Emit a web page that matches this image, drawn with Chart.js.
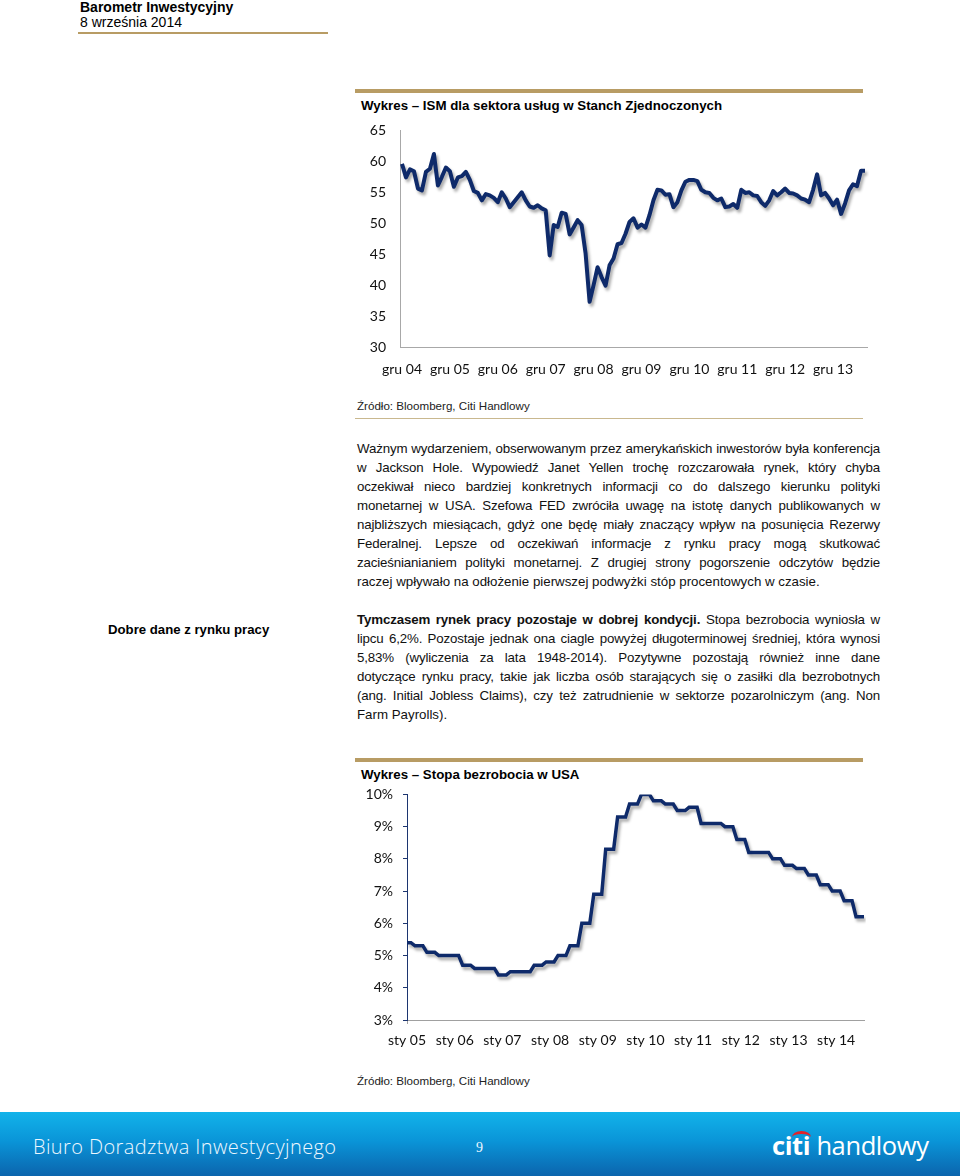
<!DOCTYPE html>
<html lang="pl">
<head>
<meta charset="utf-8">
<script src="https://cdn.jsdelivr.net/npm/chart.js@4.4.1/dist/chart.umd.min.js"></script>
<style>
html,body{margin:0;padding:0;background:#fff;}
body{width:960px;height:1176px;position:relative;overflow:hidden;font-family:"Liberation Sans",Arial,sans-serif;color:#000;}
.abs{position:absolute;}
.hdr1{left:80px;top:-1px;font-size:14px;font-weight:bold;}
.hdr2{left:80px;top:14px;font-size:14px;}
.rule{background:#b89c64;}
.title{left:361px;font-size:13.3px;font-weight:bold;}
.src{left:357px;font-size:11.6px;color:#222;}
.para{left:357px;width:523px;font-size:13.3px;line-height:19px;color:#111;}
.para div{text-align:justify;text-align-last:justify;white-space:nowrap;letter-spacing:-0.15px;}
.para div.last{text-align-last:left;letter-spacing:0;}
.side{left:108px;top:622px;font-size:13.2px;font-weight:bold;}
canvas{position:absolute;}
.footer{left:0;top:1112px;width:960px;height:64px;background:linear-gradient(to bottom,#12b3ea 0%,#0a95d8 45%,#0b64ad 100%);}
.ftxt{left:33px;top:1133px;font-family:"Open Sans",sans-serif;font-size:20px;letter-spacing:0.4px;color:#eef8ff;font-weight:300;}
.fnum{left:476px;top:1140px;font-family:"Liberation Serif",serif;font-size:14px;color:#eef8ff;}
.logo{left:772px;top:1128px;font-family:"Open Sans",sans-serif;font-size:25.5px;color:#fff;letter-spacing:-0.4px;}
.arc{left:792px;top:1131px;width:19px;height:9px;border-top:3px solid #e2232a;border-radius:50% 50% 0 0;}
</style>
</head>
<body>

<div class="abs hdr1">Barometr Inwestycyjny</div>
<div class="abs hdr2">8 września 2014</div>
<div class="abs rule" style="left:78px;top:32px;width:250px;height:2px;"></div>

<div class="abs rule" style="left:355px;top:89px;width:508px;height:4px;"></div>
<div class="abs title" style="top:98px;">Wykres – ISM dla sektora usług w Stanch Zjednoczonych</div>
<canvas id="ismChart" width="520" height="261" style="left:355px;top:116px;"></canvas>
<div class="abs src" style="top:399px;">Źródło: Bloomberg, Citi Handlowy</div>
<div class="abs" style="left:355px;top:418px;width:508px;height:1px;background:#c9b88f;"></div>

<div class="abs para" style="top:439px;">
<div>Ważnym wydarzeniem, obserwowanym przez amerykańskich inwestorów była konferencja</div>
<div>w Jackson Hole. Wypowiedź Janet Yellen trochę rozczarowała rynek, który chyba</div>
<div>oczekiwał nieco bardziej konkretnych informacji co do dalszego kierunku polityki</div>
<div>monetarnej w USA. Szefowa FED zwróciła uwagę na istotę danych publikowanych w</div>
<div>najbliższych miesiącach, gdyż one będę miały znaczący wpływ na posunięcia Rezerwy</div>
<div>Federalnej. Lepsze od oczekiwań informacje z rynku pracy mogą skutkować</div>
<div>zacieśnianianiem polityki monetarnej. Z drugiej strony pogorszenie odczytów będzie</div>
<div class="last">raczej wpływało na odłożenie pierwszej podwyżki stóp procentowych w czasie.</div>
</div>

<div class="abs side">Dobre dane z rynku pracy</div>

<div class="abs para" style="top:610px;">
<div><b>Tymczasem rynek pracy pozostaje w dobrej kondycji.</b> Stopa bezrobocia wyniosła w</div>
<div>lipcu 6,2%. Pozostaje jednak ona ciagle powyżej długoterminowej średniej, która wynosi</div>
<div>5,83% (wyliczenia za lata 1948-2014). Pozytywne pozostają również inne dane</div>
<div>dotyczące rynku pracy, takie jak liczba osób starających się o zasiłki dla bezrobotnych</div>
<div>(ang. Initial Jobless Claims), czy też zatrudnienie w sektorze pozarolniczym (ang. Non</div>
<div class="last">Farm Payrolls).</div>
</div>

<div class="abs rule" style="left:355px;top:758px;width:508px;height:4px;"></div>
<div class="abs title" style="top:767px;">Wykres – Stopa bezrobocia w USA</div>
<canvas id="uChart" width="520" height="279" style="left:355px;top:776px;"></canvas>
<div class="abs src" style="top:1074px;">Źródło: Bloomberg, Citi Handlowy</div>

<div class="abs footer"></div>
<div class="abs ftxt">Biuro Doradztwa Inwestycyjnego</div>
<div class="abs fnum">9</div>
<div class="abs logo"><b>citi</b> handlowy</div>
<div class="abs arc"></div>

<script>
const miesiace = ["sty","lut","mar","kwi","maj","cze","lip","sie","wrz","paź","lis","gru"];

// ISM uslugi, gru 04 - sie 14
const ismValues = [
59.6,57.4,58.7,58.4,55.6,55.3,58.3,58.8,61.2,56.1,57.5,59.0,
58.4,55.9,57.4,57.6,58.3,57.0,55.2,54.9,53.7,54.7,54.5,54.1,
53.4,55.0,54.0,52.6,53.4,54.2,55.0,53.7,52.7,52.5,52.9,52.4,
52.1,44.8,49.7,49.4,51.7,51.5,48.2,49.3,50.5,49.7,45.1,37.3,
40.0,42.9,41.3,39.9,43.2,44.3,46.6,46.8,48.3,50.2,50.8,49.3,
49.8,49.3,51.3,53.7,55.4,55.3,54.6,54.7,52.6,53.4,55.3,56.7,
57.0,57.0,56.8,55.4,55.0,54.9,54.1,53.7,54.0,52.6,52.7,53.1,
52.5,55.4,54.9,55.0,54.5,54.4,53.4,52.8,53.7,55.2,54.5,55.0,
55.6,54.9,54.8,54.5,54.0,53.8,53.4,55.4,57.9,54.5,54.9,54.0,
52.9,53.8,51.5,53.2,55.3,56.3,56.0,58.5,58.5
];
const ismStart = {year: 2004, month: 11};
const ismTicks = [30,35,40,45,50,55,60,65];

// stopa bezrobocia USA (%), sty 05 - sie 14
const bezrobocie = [
5.4,5.4,5.3,5.3,5.3,5.1,5.1,5.1,5.0,5.0,5.0,5.0,
5.0,5.0,4.7,4.7,4.7,4.6,4.6,4.6,4.6,4.6,4.6,4.4,
4.4,4.4,4.5,4.5,4.5,4.5,4.5,4.5,4.7,4.7,4.7,4.8,
4.8,4.8,5.0,5.0,5.0,5.3,5.3,5.3,6.0,6.0,6.0,6.9,
6.9,6.9,8.3,8.3,8.3,9.3,9.3,9.3,9.7,9.7,9.7,10.0,
10.0,10.0,9.8,9.8,9.8,9.7,9.7,9.7,9.5,9.5,9.5,9.6,
9.6,9.6,9.1,9.1,9.1,9.1,9.1,9.1,9.0,9.0,9.0,8.6,
8.6,8.6,8.2,8.2,8.2,8.2,8.2,8.2,8.0,8.0,8.0,7.8,
7.8,7.8,7.7,7.7,7.7,7.5,7.5,7.5,7.2,7.2,7.2,7.0,
7.0,7.0,6.7,6.7,6.7,6.2,6.2,6.2
];
const bezStart = {year: 2005, month: 0};
const bezTicks = [3,4,5,6,7,8,9,10];

function monthLabels(start, n){
  let out = [];
  for(let i=0;i<n;i++){
    let m = (start.month + i) % 12;
    let y = start.year + Math.floor((start.month + i) / 12);
    out.push(miesiace[m] + " " + String(y % 100).padStart(2,"0"));
  }
  return out;
}

const ismLabels = monthLabels(ismStart, ismValues.length);
const bezLabels = monthLabels(bezStart, bezrobocie.length);

// cien pod linia jak w Excelu
const lineShadow = {
  id: "lineShadow",
  beforeDatasetsDraw(chart){
    const c = chart.ctx;
    c.save();
    c.shadowColor = "rgba(0,0,0,0.33)";
    c.shadowBlur = 3;
    c.shadowOffsetX = 2;
    c.shadowOffsetY = 3;
  },
  afterDatasetsDraw(chart){ chart.ctx.restore(); }
};

const tickFont = {family: "Lato", size: 14};

// WYKRES ISM
new Chart(document.getElementById("ismChart"), {
  type: "line",
  data: {
    labels: ismLabels,
    datasets: [{
      data: ismValues,
      borderColor: "#0e2a6a",
      borderWidth: 4,
      borderJoinStyle: "round",
      pointRadius: 0,
      tension: 0,
      fill: false
    }]
  },
  options: {
    responsive: false,
    animation: false,
    devicePixelRatio: 1,
    layout: {padding: {top: 10, right: 8, left: 0, bottom: 0}},
    plugins: {legend: {display: false}, tooltip: {enabled: false}},
    scales: {
      x: {
        offset: true,
        grid: {display: false},
        border: {display: true, color: "#a8a8a8", width: 1},
        ticks: {
          font: tickFont, color: "#111", autoSkip: false, maxRotation: 0, padding: 6,
          callback: function(v, i){ return ismLabels[i].startsWith("gru") ? ismLabels[i] : null; }
        },
        afterFit: s => { s.height = 30; }
      },
      y: {
        min: 30, max: 65,
        afterBuildTicks: s => { s.ticks = ismTicks.map(v => ({value: v})); },
        grid: {display: false},
        border: {display: true, color: "#a8a8a8", width: 1},
        ticks: {font: tickFont, color: "#111", padding: 6},
        afterFit: s => { s.width = 45; }
      }
    }
  },
  plugins: [lineShadow]
});

// WYKRES BEZROBOCIE
new Chart(document.getElementById("uChart"), {
  type: "line",
  data: {
    labels: bezLabels,
    datasets: [{
      data: bezrobocie,
      borderColor: "#0e2a6a",
      borderWidth: 3.5,
      borderJoinStyle: "miter",
      pointRadius: 0,
      tension: 0,
      fill: false
    }]
  },
  options: {
    responsive: false,
    animation: false,
    devicePixelRatio: 1,
    layout: {padding: {top: 13, right: 11, left: 0, bottom: 0}},
    plugins: {legend: {display: false}, tooltip: {enabled: false}},
    scales: {
      x: {
        offset: false,
        grid: {
          display: true, drawOnChartArea: false, drawTicks: true, tickLength: 4,
          tickColor: ctx => (ctx.index % 12 === 0 ? "#a0a0a0" : "rgba(0,0,0,0)")
        },
        border: {display: true, color: "#a0a0a0", width: 1},
        ticks: {
          font: tickFont, color: "#111", autoSkip: false, maxRotation: 0, padding: 8,
          callback: function(v, i){ return i % 12 === 0 ? bezLabels[i] : null; }
        },
        afterFit: s => { s.height = 35; }
      },
      y: {
        min: 3, max: 10,
        afterBuildTicks: s => { s.ticks = bezTicks.map(v => ({value: v})); },
        grid: {display: true, drawOnChartArea: false, drawTicks: true, tickLength: 4, tickColor: "#1c3570"},
        border: {display: true, color: "#1c3570", width: 1},
        ticks: {font: tickFont, color: "#111", padding: 10, callback: v => v + "%"},
        afterFit: s => { s.width = 52; }
      }
    }
  },
  plugins: [lineShadow]
});
</script>
</body>
</html>
